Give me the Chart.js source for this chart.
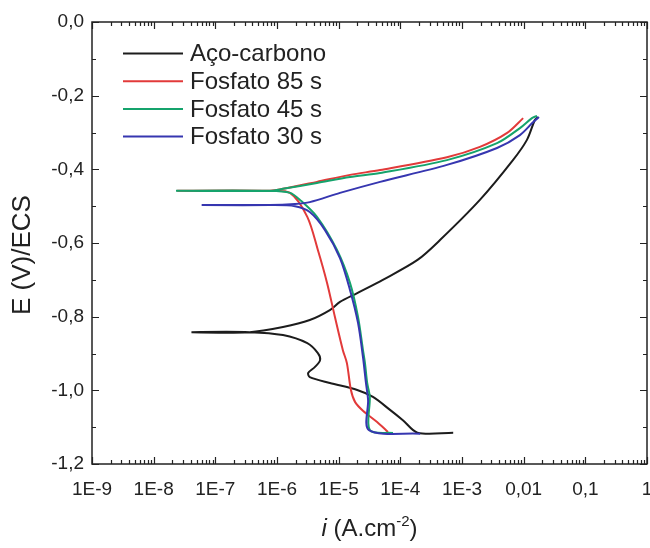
<!DOCTYPE html>
<html>
<head>
<meta charset="utf-8">
<script src="https://cdn.jsdelivr.net/npm/chart.js@4.4.1/dist/chart.umd.min.js"></script>
<style>
html, body { margin: 0; padding: 0; background: #fff; overflow: hidden; }
</style>
</head>
<body>
<canvas id="graph" width="650" height="548"></canvas>
<script>
// polarization curves, current density (A/cm2) vs potential (V/ECS)
var seriesNames = ['Aço-carbono', 'Fosfato 85 s', 'Fosfato 45 s', 'Fosfato 30 s'];

var acoI = [7.2e-4, 1.9e-4, 1.1e-4, 6.8e-5, 3.6e-5, 2.0e-5, 7.2e-6, 3.4e-6, 3.2e-6, 4.1e-6, 5.0e-6, 4.6e-6, 3.1e-6, 1.25e-6, 3.6e-7, 4.1e-8,
            3.6e-7, 1.25e-6, 3.4e-6, 7.2e-6, 1.05e-5, 2.0e-5, 5.2e-5, 1.9e-4, 4.4e-4, 1.95e-3, 6.7e-3, 1.13e-2, 1.52e-2, 1.7e-2];
var acoE = [-1.115, -1.115, -1.081, -1.053, -1.018, -0.999, -0.980, -0.964, -0.953, -0.937, -0.918, -0.899, -0.872, -0.850, -0.842, -0.842,
            -0.842, -0.828, -0.809, -0.782, -0.760, -0.736, -0.700, -0.646, -0.592, -0.483, -0.375, -0.320, -0.266, -0.258];

var f85I = [6.3e-5, 4.2e-5, 2.5e-5, 1.85e-5, 1.58e-5, 1.36e-5, 1.17e-5, 8.7e-6, 6.5e-6, 4.6e-6, 3.1e-6, 1.63e-6, 7.7e-7, 2.4e-8,
            7.7e-7, 1.25e-6, 4.45e-6, 1.53e-5, 4.7e-5, 5.7e-4, 1.95e-3, 5.4e-3, 9.8e-3];
var f85E = [-1.113, -1.086, -1.056, -1.032, -0.999, -0.926, -0.891, -0.801, -0.709, -0.619, -0.529, -0.464, -0.458, -0.458,
            -0.458, -0.453, -0.434, -0.415, -0.402, -0.367, -0.339, -0.301, -0.261];

var f45I = [7.6e-5, 3.2e-5, 3.2e-5, 2.9e-5, 2.67e-5, 2.48e-5, 2.06e-5, 1.53e-5, 9.4e-6, 4.45e-6, 2.36e-6, 1.63e-6, 7.7e-7, 2.3e-8,
            7.7e-7, 1.25e-6, 4.45e-6, 1.53e-5, 4.7e-5, 5.7e-4, 3.7e-3, 8.7e-3, 1.36e-2, 1.65e-2];
var f45E = [-1.116, -1.108, -1.018, -0.980, -0.926, -0.891, -0.801, -0.709, -0.619, -0.529, -0.483, -0.464, -0.458, -0.458,
            -0.458, -0.453, -0.437, -0.421, -0.410, -0.375, -0.329, -0.288, -0.261, -0.255];

var f30I = [2.1e-4, 3.1e-5, 3.0e-5, 2.77e-5, 2.48e-5, 2.06e-5, 1.53e-5, 1.05e-5, 6.0e-6, 3.4e-6, 1.96e-6, 7.7e-7, 6.0e-8,
            7.7e-7, 1.96e-6, 3.4e-6, 1.05e-5, 4.7e-5, 5.7e-4, 3.7e-3, 8.7e-3, 1.42e-2, 1.77e-2];
var f30E = [-1.118, -1.108, -1.026, -0.980, -0.910, -0.817, -0.728, -0.641, -0.565, -0.516, -0.500, -0.497, -0.497,
            -0.497, -0.494, -0.489, -0.464, -0.434, -0.388, -0.342, -0.307, -0.272, -0.258];

var xTickValues = [1e-9, 1e-8, 1e-7, 1e-6, 1e-5, 1e-4, 1e-3, 1e-2, 1e-1, 1];
var xTickLabels = ['1E-9', '1E-8', '1E-7', '1E-6', '1E-5', '1E-4', '1E-3', '0,01', '0,1', '1'];
var yTickValues = [-1.2, -1.0, -0.8, -0.6, -0.4, -0.2, 0];
var yTickLabels = ['-1,2', '-1,0', '-0,8', '-0,6', '-0,4', '-0,2', '0,0'];

var colors = ['#1c1c1c', '#e23a3a', '#15a36c', '#3636b0'];
var FONT = 'Liberation Sans, Arial, sans-serif';

function pairs(xs, ys) {
    return xs.map(function(v, i){ return {x: v, y: ys[i]}; });
}

var allI = [acoI, f85I, f45I, f30I];
var allE = [acoE, f85E, f45E, f30E];

var datasets = seriesNames.map(function(name, k){
    return {
        label: name,
        data: pairs(allI[k], allE[k]),
        borderColor: colors[k],
        backgroundColor: colors[k],
        showLine: true,
        fill: false,
        order: 4 - k
    };
});

// box, inward ticks, legend and axis titles
var frame = {
    id: 'frame',
    afterDatasetsDraw: function(chart){
        var ctx = chart.ctx, a = chart.chartArea;
        var xs = chart.scales.x, ys = chart.scales.y;
        ctx.save();
        ctx.strokeStyle = '#222';
        ctx.lineWidth = 1.5;
        ctx.strokeRect(a.left, a.top, a.right - a.left, a.bottom - a.top);

        ctx.lineWidth = 1.2;
        ctx.beginPath();
        for (var d = -9; d <= 0; d++) {
            for (var k = 1; k <= 9; k++) {
                if (d === 0 && k > 1) break;
                var px = Math.round(xs.getPixelForValue(k * Math.pow(10, d))) + 0.5;
                var len = k === 1 ? 7 : 4;
                ctx.moveTo(px, a.bottom); ctx.lineTo(px, a.bottom - len);
                ctx.moveTo(px, a.top); ctx.lineTo(px, a.top + len);
            }
        }
        for (var t = 0; t <= 12; t++) {
            var py = Math.round(ys.getPixelForValue(-t / 10)) + 0.5;
            var l2 = t % 2 === 0 ? 7 : 4;
            ctx.moveTo(a.left, py); ctx.lineTo(a.left + l2, py);
            ctx.moveTo(a.right, py); ctx.lineTo(a.right - l2, py);
        }
        ctx.stroke();

        // legend
        ctx.font = '24px ' + FONT;
        ctx.textBaseline = 'middle';
        ctx.textAlign = 'left';
        chart.data.datasets.forEach(function(ds, i){
            var y = 53.5 + i * 27.7;
            ctx.strokeStyle = ds.borderColor;
            ctx.lineWidth = 2;
            ctx.beginPath();
            ctx.moveTo(123, y); ctx.lineTo(183, y);
            ctx.stroke();
            ctx.fillStyle = '#222';
            ctx.fillText(ds.label, 190, y + 1);
        });

        // y title
        ctx.save();
        ctx.translate(23, 255);
        ctx.rotate(-Math.PI / 2);
        ctx.textAlign = 'center';
        ctx.font = '26px ' + FONT;
        ctx.fillText('E (V)/ECS', 0, 0);
        ctx.restore();

        // x title: italic i, unit with superscript
        var base = 536;
        var f1 = 'italic 24px ' + FONT, f2 = '24px ' + FONT, f3 = '15px ' + FONT;
        ctx.textBaseline = 'alphabetic';
        ctx.font = f1; var w1 = ctx.measureText('i').width;
        ctx.font = f2; var w2 = ctx.measureText(' (A.cm').width; var w4 = ctx.measureText(')').width;
        ctx.font = f3; var w3 = ctx.measureText('-2').width;
        var x0 = (a.left + a.right) / 2 - (w1 + w2 + w3 + w4) / 2;
        ctx.font = f1; ctx.fillText('i', x0, base);
        ctx.font = f2; ctx.fillText(' (A.cm', x0 + w1, base);
        ctx.font = f3; ctx.fillText('-2', x0 + w1 + w2, base - 10);
        ctx.font = f2; ctx.fillText(')', x0 + w1 + w2 + w3, base);
        ctx.restore();
    }
};

new Chart(document.getElementById('graph'), {
    type: 'scatter',
    data: { datasets: datasets },
    options: {
        responsive: false,
        animation: false,
        layout: { padding: { top: 22, right: 3, left: 0, bottom: 0 } },
        plugins: { legend: { display: false }, tooltip: { enabled: false } },
        elements: {
            point: { radius: 0, hoverRadius: 0 },
            line: { tension: 0.3, borderWidth: 2 }
        },
        scales: {
            x: {
                type: 'logarithmic',
                min: 1e-9,
                max: 1,
                grid: { display: false, drawTicks: false },
                border: { display: false },
                afterBuildTicks: function(s){ s.ticks = xTickValues.map(function(v){ return {value: v}; }); },
                afterFit: function(s){ s.height = 84; s.paddingLeft = 0; s.paddingRight = 0; },
                ticks: {
                    autoSkip: false, maxRotation: 0, padding: 14, color: '#222',
                    font: { family: FONT, size: 19 },
                    callback: function(v, i){ return xTickLabels[i]; }
                }
            },
            y: {
                min: -1.2,
                max: 0,
                grid: { display: false, drawTicks: false },
                border: { display: false },
                afterBuildTicks: function(s){ s.ticks = yTickValues.map(function(v){ return {value: v}; }); },
                afterFit: function(s){ s.width = 92; s.paddingTop = 0; s.paddingBottom = 0; },
                ticks: {
                    autoSkip: false, padding: 8, color: '#222',
                    font: { family: FONT, size: 19 },
                    callback: function(v, i){ return yTickLabels[i]; }
                }
            }
        }
    },
    plugins: [frame]
});
</script>
</body>
</html>
